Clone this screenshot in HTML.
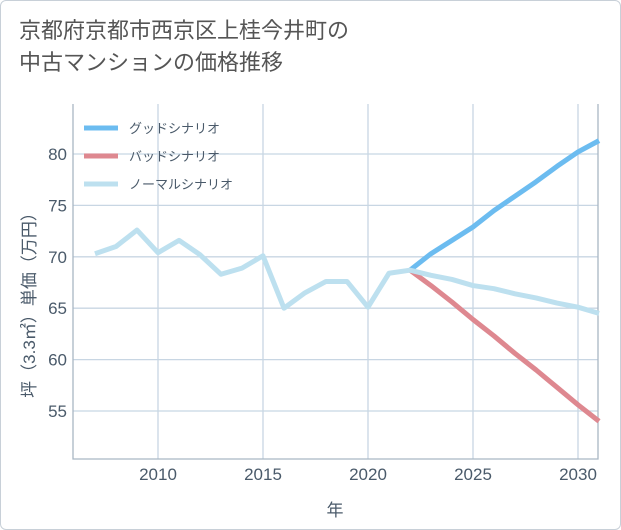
<!DOCTYPE html>
<html><head><meta charset="utf-8"><style>
body{margin:0;background:#fff;}
.card{position:absolute;left:0;top:0;width:619px;height:528px;border:1px solid #c8d0d8;border-radius:6px;background:#fff;overflow:hidden;font-family:"Liberation Sans","Noto Sans CJK JP",sans-serif;}
.title{position:absolute;left:18px;top:14px;font-size:22px;line-height:32px;color:#555;}
svg text{font-family:"Liberation Sans","Noto Sans CJK JP",sans-serif;}
</style></head><body>
<div class="card">
<div class="title">京都府京都市西京区上桂今井町の<br>中古マンションの価格推移</div>
<svg id="chart" width="621" height="530" style="position:absolute;left:0;top:0"></svg>
</div>
<script>
const years=[2007,2008,2009,2010,2011,2012,2013,2014,2015,2016,2017,2018,2019,2020,2021,2022,2023,2024,2025,2026,2027,2028,2029,2030,2031];
const normal=[70.3,71.0,72.6,70.4,71.6,70.2,68.3,68.9,70.1,65.0,66.5,67.6,67.6,65.1,68.4,68.7,68.2,67.8,67.2,66.9,66.4,66.0,65.5,65.1,64.5];
const goodYears=[2022,2023,2024,2025,2026,2027,2028,2029,2030,2031];
const good=[68.7,70.3,71.6,72.9,74.5,75.9,77.3,78.8,80.2,81.3];
const bad=[68.7,67.2,65.6,63.9,62.3,60.6,59.0,57.3,55.6,54.0];
const xTicks=[2010,2015,2020,2025,2030];
const yTicks=[55,60,65,70,75,80];
const L=72,R=597,T=103,B=458;
const x=v=>157+(v-2010)*21;
const y=v=>153+(80-v)*10.28;
const svg=document.getElementById('chart');
const NS='http://www.w3.org/2000/svg';
function mk(t,a){const e=document.createElementNS(NS,t);for(const k in a)e.setAttribute(k,a[k]);svg.appendChild(e);return e;}
yTicks.forEach(v=>{
 const g=mk('line',{x1:L,x2:R,y1:y(v),y2:y(v),stroke:'#c8d6e3','stroke-width':1.3});
 
 
 const t=mk('text',{x:L-6,y:y(v)+6,'text-anchor':'end','font-size':17,fill:'#4a5a6a'});t.textContent=v;
 
 
});
xTicks.forEach(v=>{
 const g=mk('line',{x1:x(v),x2:x(v),y1:T,y2:B,stroke:'#c8d6e3','stroke-width':1.3});
 
 
 const t=mk('text',{x:x(v),y:B+21,'text-anchor':'middle','font-size':17,fill:'#4a5a6a'});t.textContent=v;
 
 
});
const ax=mk('path',{d:`M${L},${T}V${B}H${R}V${T}`,fill:'none',stroke:'#a9b6c4','stroke-width':1.3});


function line(xs,vs,c,n){const p=mk('polyline',{points:xs.map((yr,i)=>x(yr)+','+y(vs[i])).join(' '),fill:'none',stroke:c,'stroke-width':5,'stroke-linejoin':'round'});
 
 }
line(goodYears,bad,'#de8890','bad-scenario-line');
line(goodYears,good,'#6cbcf0','good-scenario-line');
line(years,normal,'#bde0ef','normal-scenario-line');
const leg=[['グッドシナリオ','#6cbcf0'],['バッドシナリオ','#de8890'],['ノーマルシナリオ','#bde0ef']];
leg.forEach((l,i)=>{const yy=127+i*28;
 const r=mk('line',{x1:83,x2:117,y1:yy,y2:yy,stroke:l[1],'stroke-width':5});
 
 
 const t=mk('text',{x:128,y:yy+5,'font-size':13,fill:'#4a5a6a'});t.textContent=l[0];
 
 
});
const xt=mk('text',{x:334,y:515,'text-anchor':'middle','font-size':17,fill:'#4a5a6a'});xt.textContent='年';


const yt=mk('text',{x:0,y:0,'text-anchor':'middle','font-size':17,fill:'#4a5a6a',transform:'translate(34,300) rotate(-90)'});yt.textContent='坪（3.3㎡）単価（万円）';


</script>
</body></html>
